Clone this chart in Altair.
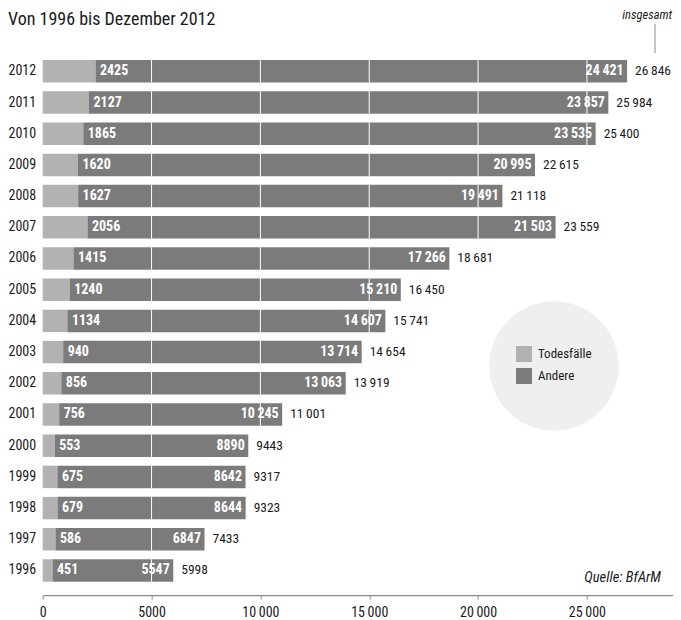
import altair as alt
import pandas as pd

years = [str(y) for y in range(1996, 2013)]
todesfaelle = [451, 586, 679, 675, 553, 756, 856, 940, 1134, 1240, 1415, 2056, 1627, 1620, 1865, 2127, 2425]
andere = [5547, 6847, 8644, 8642, 8890, 10245, 13063, 13714, 14607, 15210, 17266, 21503, 19491, 20995, 23535, 23857, 24421]
insgesamt = [5998, 7433, 9323, 9317, 9443, 11001, 13919, 14654, 15741, 16450, 18681, 23559, 21118, 22615, 25400, 25984, 26846]
categories = ["Todesfälle", "Andere"]
colors = ["#b2b2b2", "#7b7b7b"]
grid_values = [5000, 10000, 15000, 20000, 25000]
x_ticks = [0, 5000, 10000, 15000, 20000, 25000]

FONT = "Roboto Condensed"
TXT = "#1a1a1a"


def de(n):
    s = str(n)
    if n >= 10000:
        s = s[:-3] + "\u2009" + s[-3:]
    return s


long_rows = []
for y, t, a in zip(years, todesfaelle, andere):
    long_rows.append({"Jahr": y, "Kategorie": categories[0], "Wert": t, "ord": 0})
    long_rows.append({"Jahr": y, "Kategorie": categories[1], "Wert": a, "ord": 1})
long_df = pd.DataFrame(long_rows)

wide_df = pd.DataFrame({
    "Jahr": years,
    "Todes": todesfaelle,
    "Andere": andere,
    "Gesamt": insgesamt,
    "TodesL": [de(v) for v in todesfaelle],
    "AndereL": [de(v) for v in andere],
    "GesamtL": [de(v) for v in insgesamt],
})

grid_rows = []
for y, tot in zip(years, insgesamt):
    for g in grid_values:
        if g < tot:
            grid_rows.append({"Jahr": y, "Grid": g})
grid_df = pd.DataFrame(grid_rows)

one = pd.DataFrame({"a": [0]})

y_enc = alt.Y(
    "Jahr:N",
    sort=years[::-1],
    scale=alt.Scale(paddingInner=0.28, paddingOuter=0.14),
    axis=alt.Axis(title=None, ticks=False, tickSize=0, domain=False, labelAlign="left",
                  labelPadding=34.7, labelFontSize=14, labelColor=TXT, labelFont=FONT),
)
x_scale = alt.Scale(domain=[0, 28940], nice=False, zero=True)

circle = alt.Chart(one).mark_circle(color="#efefef", opacity=1, size=16742).encode(
    x=alt.value(511.3), y=alt.value(310.3)
)

bars = alt.Chart(long_df).mark_bar(strokeWidth=0).encode(
    x=alt.X(
        "Wert:Q",
        stack="zero",
        scale=x_scale,
        axis=alt.Axis(
            title=None, values=x_ticks, grid=False, offset=9, tickSize=4,
            tickColor="#8c8c8c", domainColor="#8c8c8c", domainWidth=1.2,
            labelFontSize=14, labelColor=TXT, labelFont=FONT, labelPadding=6,
            labelFlush=False,
            labelExpr="datum.value >= 10000 ? replace(format(datum.value, ','), ',', '\u2009') : format(datum.value, 'd')",
        ),
    ),
    y=y_enc,
    color=alt.Color(
        "Kategorie:N",
        scale=alt.Scale(domain=categories, range=colors),
        legend=alt.Legend(
            title=None, orient="none", legendX=473.3, legendY=290.3,
            symbolType="square", symbolSize=256, symbolStrokeWidth=0,
            labelFontSize=13, labelFont=FONT, labelColor=TXT, labelOffset=6,
            rowPadding=6, padding=0,
        ),
    ),
    order=alt.Order("ord:Q"),
)

grid = alt.Chart(grid_df).mark_tick(color="white", thickness=1, size=22.5, opacity=1).encode(
    x=alt.X("Grid:Q", scale=x_scale),
    y=alt.Y("Jahr:N", sort=years[::-1]),
)

lab_todes = alt.Chart(wide_df).mark_text(
    align="left", baseline="middle", dx=4.5, color="white", fontSize=14, fontWeight="bold", font=FONT
).encode(x=alt.X("Todes:Q", scale=x_scale), y=alt.Y("Jahr:N", sort=years[::-1]), text="TodesL:N")

lab_andere = alt.Chart(wide_df).mark_text(
    align="right", baseline="middle", dx=-3.5, color="white", fontSize=14, fontWeight="bold", font=FONT
).encode(x=alt.X("Gesamt:Q", scale=x_scale), y=alt.Y("Jahr:N", sort=years[::-1]), text="AndereL:N")

lab_total = alt.Chart(wide_df).mark_text(
    align="left", baseline="middle", dx=8, color=TXT, fontSize=13.5, font=FONT
).encode(x=alt.X("Gesamt:Q", scale=x_scale), y=alt.Y("Jahr:N", sort=years[::-1]), text="GesamtL:N")

title = alt.Chart(one).mark_text(
    align="left", baseline="middle", fontSize=18, color=TXT, font=FONT
).encode(x=alt.value(-34.7), y=alt.value(-36.2), text=alt.value("Von 1996 bis Dezember 2012"))

insg = alt.Chart(one).mark_text(
    align="right", baseline="middle", fontSize=12.5, fontStyle="italic", color=TXT, font=FONT
).encode(x=alt.value(629.5), y=alt.value(-40.5), text=alt.value("insgesamt"))

insg_rule = alt.Chart(one).mark_rule(color="#8c8c8c", strokeWidth=1).encode(
    x=alt.value(612.3), y=alt.value(-31.7), y2=alt.value(-2.7)
)

quelle = alt.Chart(one).mark_text(
    align="right", baseline="middle", fontSize=14.5, fontStyle="italic", color=TXT, font=FONT
).encode(x=alt.value(618.3), y=alt.value(522.3), text=alt.value("Quelle: BfArM"))

chart = alt.layer(
    circle, bars, grid, lab_todes, lab_andere, lab_total, title, insg, insg_rule, quelle
).resolve_scale(x="shared", y="shared").properties(
    width=630,
    height=530.4,
    autosize=alt.AutoSizeParams(type="none"),
    padding={"left": 34.7, "top": 47.7, "right": 0, "bottom": 36},
).configure(font=FONT, view=alt.ViewConfig(stroke=None))

chart.save("out.html", embed_options={"renderer": "svg", "actions": False})
